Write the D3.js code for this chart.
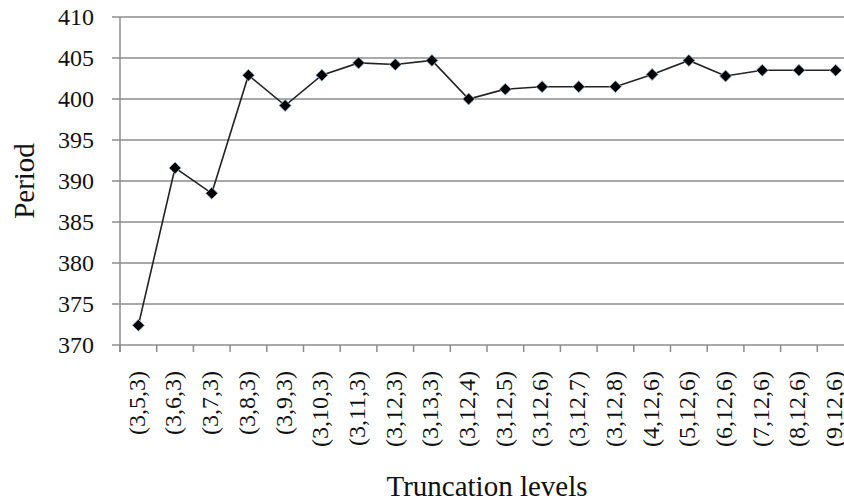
<!DOCTYPE html>
<html>
<head>
<meta charset="utf-8">
<script src="https://cdn.jsdelivr.net/npm/d3@7/dist/d3.min.js"></script>
<style>
  html, body { margin: 0; padding: 0; background: #fff; }
  svg { display: block; font-family: "Liberation Serif", "DejaVu Serif", serif; }
</style>
</head>
<body>
<div id="chart"></div>
<script>
'use strict';

// ── Data ─────────────────────────────────────────────
const levels = [
  '(3,5,3)', '(3,6,3)', '(3,7,3)', '(3,8,3)', '(3,9,3)',
  '(3,10,3)', '(3,11,3)', '(3,12,3)', '(3,13,3)', '(3,12,4)',
  '(3,12,5)', '(3,12,6)', '(3,12,7)', '(3,12,8)', '(4,12,6)',
  '(5,12,6)', '(6,12,6)', '(7,12,6)', '(8,12,6)', '(9,12,6)'
];
const periods = [
  372.4, 391.6, 388.5, 402.9, 399.2,
  402.9, 404.4, 404.2, 404.7, 400.0,
  401.2, 401.5, 401.5, 401.5, 403.0,
  404.7, 402.8, 403.5, 403.5, 403.5
];
const yTicks = [370, 375, 380, 385, 390, 395, 400, 405, 410];

// ── Layout ───────────────────────────────────────────
const W = 844, H = 503;
const plot = { left: 120, right: 854, top: 17, bottom: 345 };

const svg = d3.select('#chart').append('svg')
  .attr('width', W)
  .attr('height', H);

const x = d3.scaleBand()
  .domain(levels)
  .range([plot.left, plot.right]);

const y = d3.scaleLinear()
  .domain([370, 410])
  .range([plot.bottom, plot.top]);

// ── Gridlines ────────────────────────────────────────
svg.append('g')
  .selectAll('line')
  .data(yTicks)
  .join('line')
  .attr('x1', plot.left - 8)
  .attr('x2', plot.right)
  .attr('y1', d => y(d))
  .attr('y2', d => y(d))
  .attr('stroke', '#8c8c8c')
  .attr('stroke-width', 1.5);

// y axis line
svg.append('line')
  .attr('x1', plot.left).attr('x2', plot.left)
  .attr('y1', plot.top).attr('y2', plot.bottom + 7)
  .attr('stroke', '#8c8c8c')
  .attr('stroke-width', 1.5);

// x category boundary ticks
const bounds = levels.map(d => x(d)).concat([plot.right]);
svg.append('g')
  .selectAll('line')
  .data(bounds)
  .join('line')
  .attr('x1', d => d).attr('x2', d => d)
  .attr('y1', plot.bottom).attr('y2', plot.bottom + 7)
  .attr('stroke', '#8c8c8c')
  .attr('stroke-width', 1.5);

// ── Tick labels ──────────────────────────────────────
svg.append('g')
  .selectAll('text')
  .data(yTicks)
  .join('text')
  .attr('x', 94)
  .attr('y', d => y(d))
  .attr('dy', '0.35em')
  .attr('text-anchor', 'end')
  .attr('font-size', 24)
  .attr('fill', '#111')
  .text(d => d);

svg.append('g')
  .selectAll('text')
  .data(levels)
  .join('text')
  .attr('transform', d => `translate(${x(d) + x.bandwidth() / 2 - 2},371) rotate(-90)`)
  .attr('dy', '0.35em')
  .attr('text-anchor', 'end')
  .attr('font-size', 24)
  .attr('fill', '#111')
  .text(d => d);

// ── Line + markers ───────────────────────────────────
const cx = (d, i) => x(levels[i]) + x.bandwidth() / 2;

svg.append('path')
  .datum(periods)
  .attr('fill', 'none')
  .attr('stroke', '#222')
  .attr('stroke-width', 1.6)
  .attr('d', d3.line().x(cx).y(d => y(d)));

svg.append('g')
  .selectAll('path')
  .data(periods)
  .join('path')
  .attr('transform', (d, i) => `translate(${cx(d, i)},${y(d)})`)
  .attr('d', 'M0,-6L6,0L0,6L-6,0Z')
  .attr('fill', '#000')
  .attr('stroke', '#9cc3e6')
  .attr('stroke-width', 0.8);

// ── Axis titles ──────────────────────────────────────
svg.append('text')
  .attr('x', (plot.left + plot.right) / 2)
  .attr('y', 496)
  .attr('text-anchor', 'middle')
  .attr('font-size', 29)
  .attr('fill', '#111')
  .text('Truncation levels');

svg.append('text')
  .attr('transform', `translate(34,${(plot.top + plot.bottom) / 2}) rotate(-90)`)
  .attr('text-anchor', 'middle')
  .attr('font-size', 29)
  .attr('fill', '#111')
  .text('Period');
</script>
</body>
</html>
